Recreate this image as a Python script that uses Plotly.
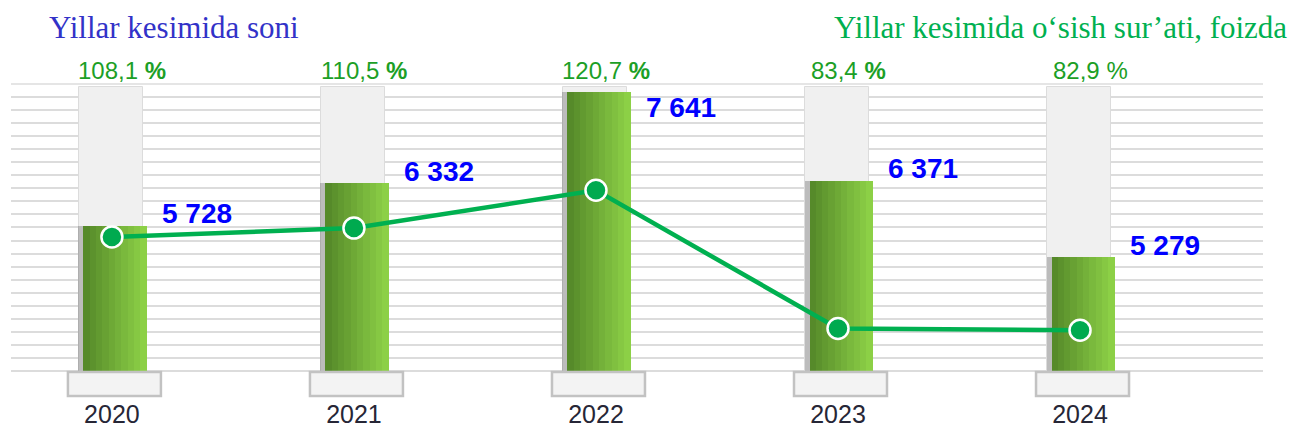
import plotly.graph_objects as go

# ---- data ----
years = ["2020", "2021", "2022", "2023", "2024"]
counts = [5728, 6332, 7641, 6371, 5279]
growth_pct = [108.1, 110.5, 120.7, 83.4, 82.9]
pct_sign_bold = [True, True, True, True, False]

title_left = "Yillar kesimida soni"
title_right = "Yillar kesimida o‘sish sur’ati, foizda"

# ---- canvas / axes geometry ----
W, H = 1295, 432
L, R, T, B = 11, 32, 84, 48
plot_w = W - L - R
plot_h = H - T - B

x_range = [-0.417, 4.756]
px_per_cat = plot_w / (x_range[1] - x_range[0])

y_range = [3461, 7756]
y_per_px = (y_range[1] - y_range[0]) / plot_h
n_grid = 23

pct_range = [68.4, 149.4]

GRID_COLOR = "#dcdcdc"


def cu(px):
    """pixels -> category units"""
    return px / px_per_cat


def paper_y(px_from_top):
    """pixel row (from top of page) -> paper y"""
    return (T + plot_h - px_from_top) / plot_h


GREEN_W = 63
GREEN_SHIFT = 3
green_offset = cu(-GREEN_W / 2 + GREEN_SHIFT)

fig = go.Figure()

# grey backdrop columns
backdrop_top = y_range[1] - 3 * y_per_px
fig.add_trace(go.Bar(
    x=years, y=[backdrop_top] * len(years),
    width=cu(64), offset=cu(-33),
    marker=dict(color="#f0f0f0", line=dict(color="#dcdcdc", width=1)),
    hoverinfo="skip", showlegend=False,
))

# soft shadow on the left of the green columns
fig.add_trace(go.Bar(
    x=years, y=counts,
    width=cu(GREEN_W), offset=cu(-GREEN_W / 2 + GREEN_SHIFT - 5),
    marker=dict(color="rgba(70,70,70,0.30)", line=dict(width=0)),
    hoverinfo="skip", showlegend=False,
))

# green columns, shaded left -> right in thin strips
n_strips = 10
c_left = (86, 138, 42)
c_right = (140, 208, 70)
strip_w = GREEN_W / n_strips
for i in range(n_strips):
    t = i / (n_strips - 1)
    col = tuple(round(a + (b - a) * t) for a, b in zip(c_left, c_right))
    fig.add_trace(go.Bar(
        x=years, y=counts,
        width=cu(strip_w + 0.6),
        offset=green_offset + cu(i * strip_w),
        marker=dict(color="rgb(%d,%d,%d)" % col, line=dict(width=0)),
        hovertemplate="%{x}: %{y}<extra></extra>" if i == 0 else None,
        hoverinfo=None if i == 0 else "skip",
        showlegend=False,
    ))

# growth-rate line
fig.add_trace(go.Scatter(
    x=years, y=growth_pct, yaxis="y2",
    mode="lines+markers",
    line=dict(color="#00b050", width=4.5),
    marker=dict(size=21, color="#00aa4f", line=dict(color="white", width=2.5)),
    showlegend=False,
))

annotations = []

# value labels next to the columns
for i, v in enumerate(counts):
    top_px = (y_range[1] - v) / y_per_px
    yshift = -15 if top_px < 25 else 12
    label = f"{v:,}".replace(",", " ")
    annotations.append(dict(
        x=i, y=v, xref="x", yref="y",
        text=f"<b>{label}</b>", showarrow=False,
        xanchor="left", yanchor="middle", xshift=48, yshift=yshift,
        font=dict(family="Arial, Liberation Sans", size=28, color="#0000ff"),
    ))

# growth-rate labels above the columns
for i, (p, bold) in enumerate(zip(growth_pct, pct_sign_bold)):
    num = f"{p:.1f}".replace(".", ",")
    sign = "<b>%</b>" if bold else "%"
    annotations.append(dict(
        x=i, y=paper_y(70), xref="x", yref="paper",
        text=f"{num} {sign}", showarrow=False,
        xanchor="center", yanchor="middle", xshift=10,
        font=dict(family="Arial, Liberation Sans", size=24, color="#1c9f26"),
    ))

# headings
annotations.append(dict(
    x=(47 - L) / plot_w, y=paper_y(27), xref="paper", yref="paper",
    text=title_left, showarrow=False, xanchor="left", yanchor="middle",
    font=dict(family="Times New Roman, Liberation Serif", size=31, color="#3232c8"),
))
annotations.append(dict(
    x=(1289 - L) / plot_w, y=paper_y(27), xref="paper", yref="paper",
    text=title_right, showarrow=False, xanchor="right", yanchor="middle",
    font=dict(family="Times New Roman, Liberation Serif", size=31, color="#00b050"),
))

shapes = []
# top rule of the grid
shapes.append(dict(
    type="line", xref="paper", yref="paper", x0=0, x1=1, y0=1, y1=1,
    line=dict(color=GRID_COLOR, width=1.5), layer="below",
))
# plinths under each column
for i in range(len(years)):
    shapes.append(dict(
        type="rect", xref="x", yref="paper",
        x0=i + cu(-44), x1=i + cu(49),
        y0=paper_y(396), y1=paper_y(372),
        fillcolor="#f3f3f3", line=dict(color="#c2c2c2", width=2.5),
        layer="above",
    ))

fig.update_layout(
    width=W, height=H,
    margin=dict(l=L, r=R, t=T, b=B, pad=0, autoexpand=False),
    paper_bgcolor="white", plot_bgcolor="white",
    barmode="overlay", bargap=0,
    showlegend=False,
    xaxis=dict(
        type="category", range=x_range, automargin=False,
        showgrid=False, zeroline=False, showline=False,
        ticks="", ticklabelstandoff=13,
        tickfont=dict(family="Arial, Liberation Sans", size=25, color="#262636"),
    ),
    yaxis=dict(
        range=y_range, tick0=y_range[0], dtick=(y_range[1] - y_range[0]) / n_grid,
        automargin=False,
        showgrid=True, gridcolor=GRID_COLOR, gridwidth=1.5,
        zeroline=False, showline=False, showticklabels=False, ticks="",
    ),
    yaxis2=dict(
        range=pct_range, overlaying="y", visible=False,
    ),
    annotations=annotations,
    shapes=shapes,
)

fig.write_html("out.html")
